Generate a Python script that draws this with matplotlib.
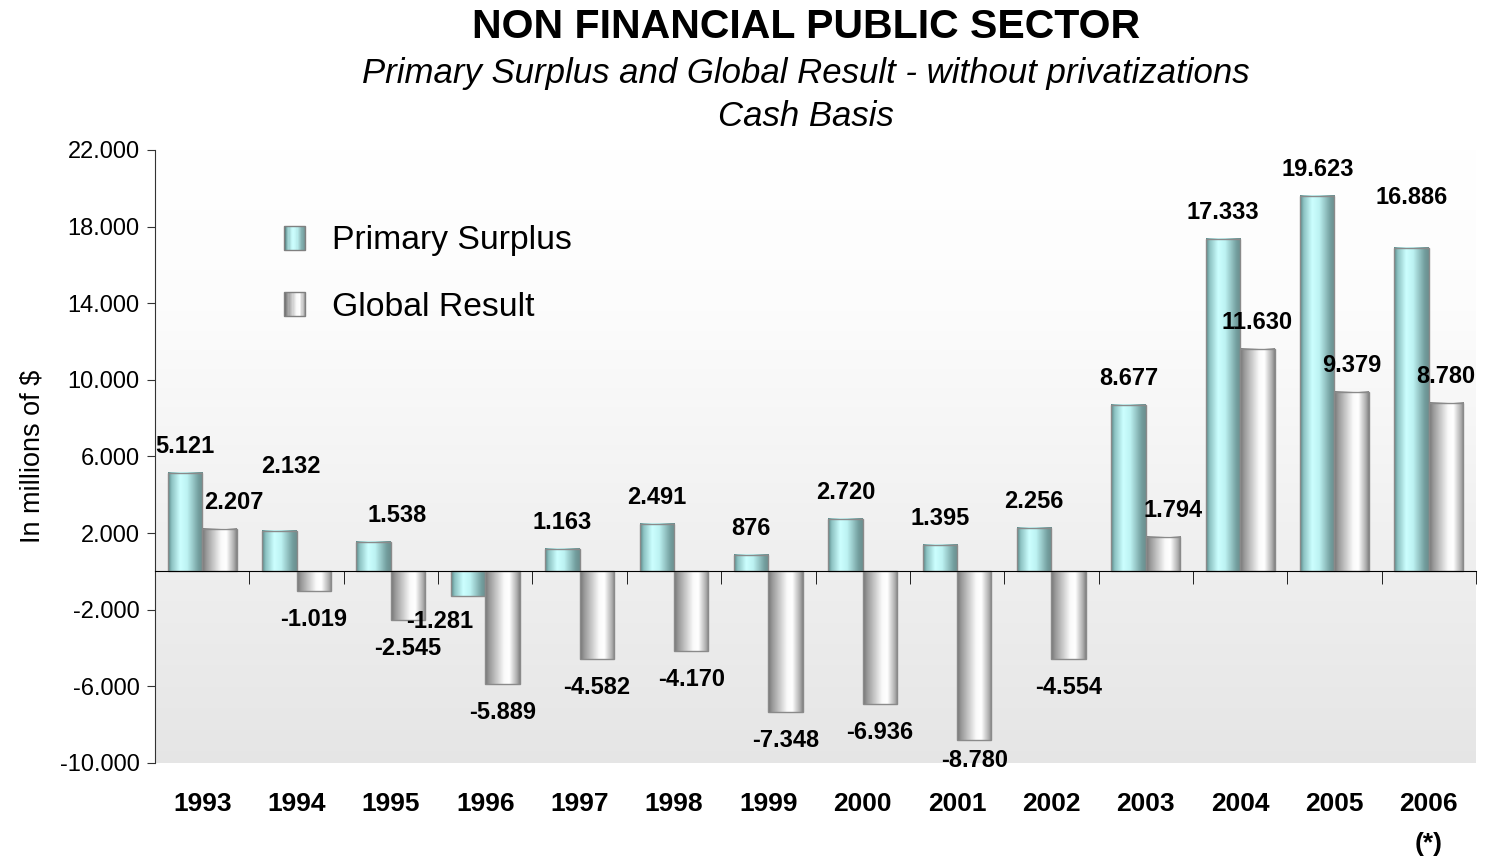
import numpy as np
import matplotlib.pyplot as plt
from matplotlib.patches import Rectangle
from matplotlib.legend_handler import HandlerBase
from matplotlib.ticker import FuncFormatter

plt.rcParams['font.family'] = ['Liberation Sans', 'DejaVu Sans']

# Non financial public sector results, millions of $
years = ['1993', '1994', '1995', '1996', '1997', '1998', '1999',
         '2000', '2001', '2002', '2003', '2004', '2005', '2006\n(*)']
primary_surplus = [5121, 2132, 1538, -1281, 1163, 2491, 876,
                   2720, 1395, 2256, 8677, 17333, 19623, 16886]
global_result = [2207, -1019, -2545, -5889, -4582, -4170, -7348,
                 -6936, -8780, -4554, 1794, 11630, 9379, 8780]
series_names = ['Primary Surplus', 'Global Result']


def fmt(v):
    return f"{v:,.0f}".replace(',', '.')


def gradient(stops, n=64):
    # horizontal colour ramp used to give the bars a cylinder look
    pos = [s[0] for s in stops]
    x = np.linspace(0, 1, n)
    rgb = np.stack([np.interp(x, pos, [s[1][k] for s in stops]) for k in range(3)], axis=-1)
    return rgb[np.newaxis, :, :]


cyan_grad = gradient([
    (0.00, (0.36, 0.54, 0.54)),
    (0.10, (0.55, 0.76, 0.76)),
    (0.35, (0.80, 1.00, 1.00)),
    (0.55, (0.74, 0.95, 0.95)),
    (0.88, (0.45, 0.62, 0.62)),
    (1.00, (0.42, 0.56, 0.56)),
])
gray_grad = gradient([
    (0.00, (0.46, 0.46, 0.46)),
    (0.12, (0.60, 0.60, 0.60)),
    (0.55, (0.98, 0.98, 0.98)),
    (0.70, (1.00, 1.00, 1.00)),
    (0.92, (0.68, 0.68, 0.68)),
    (1.00, (0.52, 0.52, 0.52)),
])


class GradientSquare(HandlerBase):
    def __init__(self, grad):
        super().__init__()
        self.grad = grad

    def create_artists(self, legend, orig_handle, xdescent, ydescent,
                       width, height, fontsize, trans):
        cols = self.grad[0, ::4]
        n = len(cols)
        arts = []
        for k, c in enumerate(cols):
            arts.append(Rectangle((-xdescent + width * k / n, -ydescent), width / n, height,
                                  facecolor=c, edgecolor=c, lw=0.4, transform=trans))
        arts.append(Rectangle((-xdescent, -ydescent), width, height, facecolor='none',
                              edgecolor='#808080', lw=1, transform=trans))
        return arts


fig = plt.figure(figsize=(14.95, 8.6), dpi=100)
ax = fig.add_axes([0.1037, 0.1128, 0.8836, 0.7128])

x = np.arange(len(years))
w = 0.365
ylo, yhi = -10000, 22000

# background: white at the top fading to light gray
yy = np.linspace(yhi, ylo, 300)
shade = np.interp(yy, [ylo, 0, 14000, yhi], [0.90, 0.935, 0.99, 1.0])
bg = np.repeat(shade[:, None, None], 3, axis=2)
ax.imshow(bg, extent=(-0.5, len(years) - 0.5, ylo, yhi), aspect='auto', zorder=0)

bars_p = ax.bar(x - w / 2, primary_surplus, width=w, facecolor='none',
                edgecolor='#8a8a8a', lw=1, zorder=3)
bars_g = ax.bar(x + w / 2, global_result, width=w, facecolor='none',
                edgecolor='#8a8a8a', lw=1, zorder=3)
for bars, grad in ((bars_p, cyan_grad), (bars_g, gray_grad)):
    for r in bars:
        x0, y0 = r.get_x(), r.get_y()
        ax.imshow(grad, extent=(x0, x0 + r.get_width(), y0, y0 + r.get_height()),
                  aspect='auto', interpolation='bilinear', zorder=2)

# value labels, a few shifted a bit to avoid collisions
label_nudge = {('p', 1): (12, 38), ('p', 2): (23, 0), ('p', 3): (-28, 3),
               ('p', 13): (0, 24), ('g', 0): (14, 0), ('g', 10): (10, 0),
               ('g', 8): (0, 8)}
for key, bars, vals in (('p', bars_p, primary_surplus), ('g', bars_g, global_result)):
    for i, (r, v) in enumerate(zip(bars, vals)):
        dx, dy = label_nudge.get((key, i), (0, 0))
        base = 20 if v > 0 else -35
        ax.annotate(fmt(v), xy=(r.get_x() + r.get_width() / 2, v),
                    xytext=(dx, base + dy), textcoords='offset pixels',
                    ha='center', va='baseline', fontsize=17, fontweight='bold', zorder=4)

ax.set_xlim(-0.5, len(years) - 0.5)
ax.set_ylim(ylo, yhi)
ax.set_yticks([-10000, -6000, -2000, 2000, 6000, 10000, 14000, 18000, 22000])
ax.yaxis.set_major_formatter(FuncFormatter(lambda v, _: fmt(v)))
ax.tick_params(axis='y', length=6, labelsize=17, color='#333333', pad=5)

ax.spines['top'].set_visible(False)
ax.spines['right'].set_visible(False)
ax.spines['left'].set_color('#333333')
ax.spines['bottom'].set_position(('data', 0))
ax.spines['bottom'].set_color('black')
ax.spines['bottom'].set_zorder(5)

ax.set_xticks(x)
ax.set_xticks(np.arange(-0.5, len(years)), minor=True)
ax.tick_params(axis='x', which='major', length=0, labelbottom=False)
ax.tick_params(axis='x', which='minor', length=9, direction='out', color='black')

for i, yr in enumerate(years):
    ax.text(i, -0.048, yr, transform=ax.get_xaxis_transform(), ha='center', va='top',
            fontsize=19, fontweight='bold', linespacing=1.8)

ax.set_ylabel('In millions of $', fontsize=19.5, labelpad=10)

h1, h2 = Rectangle((0, 0), 1, 1), Rectangle((0, 0), 1, 1)
ax.legend([h1, h2], series_names,
          handler_map={h1: GradientSquare(cyan_grad), h2: GradientSquare(gray_grad)},
          loc='upper left', bbox_to_anchor=(0.098, 0.877), frameon=False, fontsize=24.3,
          handlelength=0.62, handleheight=0.72, handletextpad=0.8, labelspacing=1.05,
          borderpad=0, borderaxespad=0)

fig.text(0.539, 1 - 27 / 860, 'NON FINANCIAL PUBLIC SECTOR', ha='center', va='center',
         fontsize=29.5, fontweight='bold')
fig.text(0.539, 1 - 73 / 860, 'Primary Surplus and Global Result - without privatizations',
         ha='center', va='center', fontsize=25, style='italic')
fig.text(0.539, 1 - 116 / 860, 'Cash Basis', ha='center', va='center',
         fontsize=25, style='italic')

fig.savefig('out.png', dpi=100)
